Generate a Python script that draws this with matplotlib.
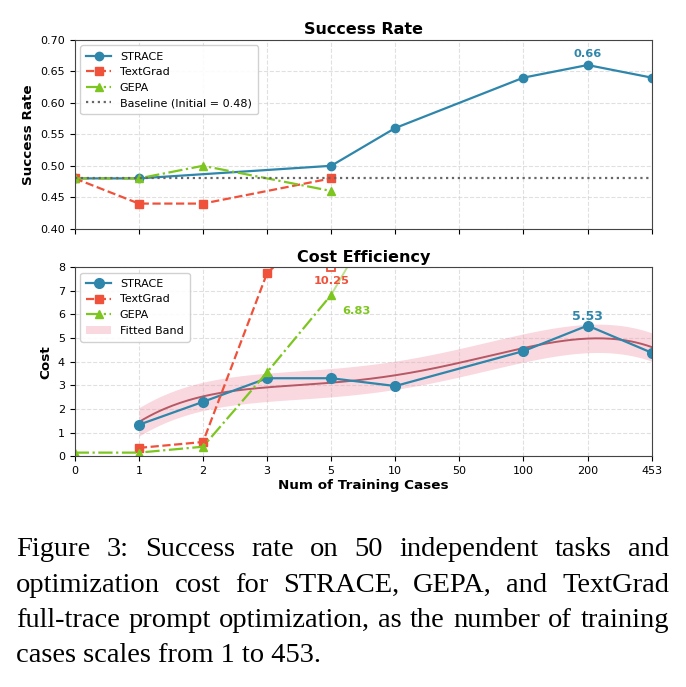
import matplotlib
matplotlib.use('Agg')
import matplotlib.pyplot as plt
import numpy as np

# categorical x axis
x_labels = ['0', '1', '2', '3', '5', '10', '50', '100', '200', '453']

# success rate (x given as index into x_labels)
strace_sr_x = [0, 1, 4, 5, 7, 8, 9]
strace_sr = [0.48, 0.48, 0.50, 0.56, 0.64, 0.66, 0.64]
textgrad_sr_x = [0, 1, 2, 4]
textgrad_sr = [0.48, 0.44, 0.44, 0.48]
gepa_sr_x = [0, 1, 2, 4]
gepa_sr = [0.48, 0.48, 0.50, 0.46]
baseline = 0.48

# cost
strace_cost_x = [1, 2, 3, 4, 5, 7, 8, 9]
strace_cost = [1.33, 2.30, 3.30, 3.30, 2.97, 4.45, 5.53, 4.38]
textgrad_cost_x = [1, 2, 3, 4]
textgrad_cost = [0.35, 0.60, 7.75, 10.25]
gepa_cost_x = [0, 1, 2, 3, 4]
gepa_cost = [0.15, 0.15, 0.40, 3.55, 6.83]
gepa_trend_x = [4, 5]
gepa_trend = [6.83, 11.5]

# fitted band (centre read at x = 1..9)
fit_x = [1, 2, 3, 4, 5, 6, 7, 8, 9]
fit_center = [1.45, 2.51, 2.94, 3.12, 3.39, 3.95, 4.63, 4.94, 4.63]
band_half = 0.6

caption = [
    "Figure 3:  Success rate on 50 independent tasks and",
    "optimization cost for STRACE, GEPA, and TextGrad",
    "full-trace prompt optimization, as the number of training",
    "cases scales from 1 to 453.",
]

C_STRACE = '#2E86AB'
C_TEXTGRAD = '#F0513A'
C_GEPA = '#7DC51F'

plt.rcParams['font.family'] = 'DejaVu Sans'
fig = plt.figure(figsize=(6.86, 6.87), dpi=100)
ax1 = fig.add_axes([0.109, 0.667, 0.841, 0.275])
ax2 = fig.add_axes([0.109, 0.336, 0.841, 0.275])

for ax in (ax1, ax2):
    ax.grid(True, linestyle='--', color='#cccccc', alpha=0.6, linewidth=0.8)
    ax.set_axisbelow(True)
    ax.set_xlim(0, len(x_labels) - 1)
    ax.set_xticks(range(len(x_labels)))
    ax.tick_params(labelsize=8)
    for s in ax.spines.values():
        s.set_color('#444444')

# --- success rate ---
ax1.plot(strace_sr_x, strace_sr, '-o', color=C_STRACE, lw=1.6, ms=6, label='STRACE')
ax1.plot(textgrad_sr_x, textgrad_sr, '--s', color=C_TEXTGRAD, lw=1.6, ms=6, label='TextGrad')
ax1.plot(gepa_sr_x, gepa_sr, '-.^', color=C_GEPA, lw=1.6, ms=6, label='GEPA')
ax1.axhline(baseline, color='#666666', ls=':', lw=1.6,
            label=f'Baseline (Initial = {baseline:.2f})')
ax1.set_ylim(0.40, 0.70)
ax1.set_yticks(np.arange(0.40, 0.701, 0.05))
ax1.set_xticklabels([])
ax1.set_ylabel('Success Rate', fontsize=9.7, fontweight='bold')
ax1.set_title('Success Rate', fontsize=11.5, fontweight='bold', pad=4)
i = int(np.argmax(strace_sr))
ax1.annotate(f'{strace_sr[i]:.2f}', (strace_sr_x[i], strace_sr[i]), xytext=(0, 4.5),
             textcoords='offset points', ha='center', va='bottom',
             color=C_STRACE, fontsize=8.2, fontweight='bold')
ax1.legend(loc='upper left', fontsize=8, framealpha=0.9, borderpad=0.55, handlelength=2.2)

# --- cost ---
coef = np.polyfit(fit_x, fit_center, 4)
xs = np.linspace(fit_x[0], fit_x[-1], 200)
ys = np.polyval(coef, xs)
ax2.fill_between(xs, ys - band_half, ys + band_half, color='#F0A0B0', alpha=0.4,
                 lw=0, label='Fitted Band')
ax2.plot(xs, ys, color='#B04A58', lw=1.4, alpha=0.9)
ax2.plot(gepa_trend_x, gepa_trend, '-', color=C_GEPA, lw=1.4, alpha=0.5)
ax2.plot(strace_cost_x, strace_cost, '-o', color=C_STRACE, lw=1.6, ms=7, label='STRACE')
ax2.plot(textgrad_cost_x, textgrad_cost, '--s', color=C_TEXTGRAD, lw=1.6, ms=6, label='TextGrad')
ax2.plot(gepa_cost_x, gepa_cost, '-.^', color=C_GEPA, lw=1.6, ms=6, label='GEPA')
ax2.set_ylim(0, 8)
ymax = ax2.get_ylim()[1]
# off-scale TextGrad point marked at the top edge
ax2.plot(textgrad_cost_x[-1], min(textgrad_cost[-1], ymax), 's', ms=6, mfc='white',
         mec=C_TEXTGRAD, mew=1.3)
ax2.annotate(f'{textgrad_cost[-1]:.2f}', (textgrad_cost_x[-1], ymax), xytext=(0, -6),
             textcoords='offset points', ha='center', va='top',
             color=C_TEXTGRAD, fontsize=8.2, fontweight='bold')
ax2.annotate(f'{gepa_cost[-1]:.2f}', (gepa_cost_x[-1], gepa_cost[-1]), xytext=(8, -8),
             textcoords='offset points', ha='left', va='top',
             color=C_GEPA, fontsize=8.2, fontweight='bold')
j = int(np.argmax(strace_cost))
ax2.annotate(f'{strace_cost[j]:.2f}', (strace_cost_x[j], strace_cost[j]), xytext=(0, 1.5),
             textcoords='offset points', ha='center', va='bottom',
             color=C_STRACE, fontsize=9, fontweight='bold')
ax2.set_xticklabels(x_labels)
ax2.set_ylabel('Cost', fontsize=9.7, fontweight='bold')
ax2.set_xlabel('Num of Training Cases', fontsize=9.7, fontweight='bold', labelpad=2)
ax2.set_title('Cost Efficiency', fontsize=11.5, fontweight='bold', pad=4)
h, l = ax2.get_legend_handles_labels()
order = [l.index(n) for n in ['STRACE', 'TextGrad', 'GEPA', 'Fitted Band']]
ax2.legend([h[k] for k in order], [l[k] for k in order], loc='upper left',
           fontsize=8, framealpha=0.9, borderpad=0.55, handlelength=2.2)

# --- justified caption ---
W, H = fig.get_size_inches() * fig.dpi
x0, x1 = 16, 669
renderer = fig.canvas.get_renderer()
cap_kw = dict(family='Liberation Serif', fontsize=20.5, va='baseline', ha='left')
for n, line in enumerate(caption):
    yb = 1 - (556 + n * 35.5) / H
    words = [w for w in line.split(' ') if w]
    if n == len(caption) - 1:
        fig.text(x0 / W, yb, line, **cap_kw)
        continue
    texts = [fig.text(0, yb, w, **cap_kw) for w in words]
    widths = [t.get_window_extent(renderer).width for t in texts]
    gap = (x1 - x0 - sum(widths)) / (len(words) - 1)
    x = x0
    for t, w in zip(texts, widths):
        t.set_x(x / W)
        x += w + gap

fig.savefig('out.png', dpi=100)
